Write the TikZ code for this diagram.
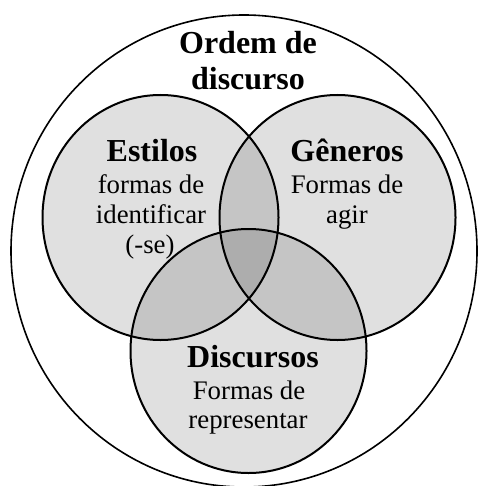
\documentclass[tikz,border=0pt]{standalone}
\usepackage{fontspec}
\setmainfont{Liberation Serif}
\usepackage{tikz}
\usetikzlibrary{calc}

\tikzset{
  ring/.style={draw=black, line width=1pt},
  blob/.style={fill=black, fill opacity=0.12},
  head/.style={anchor=base, inner sep=0pt, font=\fontsize{16}{18}\selectfont\bfseries},
  line/.style={anchor=base, inner sep=0pt, font=\fontsize{13.4}{15}\selectfont}
}

\begin{document}
\begin{tikzpicture}[x=0.5pt,y=-0.5pt]
\useasboundingbox(0,0) rectangle (477,486);
\coordinate (ordem) at (244,251);
\coordinate (est) at (160.5,217.5);
\coordinate (gen) at (337.5,217.5);
\coordinate (dis) at (248.5,351);
% outer order
\draw[ring,line width=0.8pt](ordem) ellipse[x radius=233,y radius=236];
% three fields
\fill[blob](est) ellipse[x radius=118,y radius=122.5];
\fill[blob](gen) ellipse[x radius=118,y radius=122.5];
\fill[blob](dis) ellipse[x radius=118,y radius=122];
\draw[ring](est) ellipse[x radius=118,y radius=122.5];
\draw[ring](gen) ellipse[x radius=118,y radius=122.5];
\draw[ring](dis) ellipse[x radius=118,y radius=122];
% labels
\node[head](ordemA) at (248,54) {Ordem de};
\node[head](ordemB) at (248,90) {discurso};
\node[head](estA) at (152,162) {Estilos};
\node[line](estB) at (151,193) {formas de};
\node[line](estC) at (151,223) {identificar};
\node[line](estD) at (150,253) {(-se)};
\node[head](genA) at (347,162) {Gêneros};
\node[line](genB) at (347,193) {Formas de};
\node[line](genC) at (347,223) {agir};
\node[head](disA) at (253,367) {Discursos};
\node[line](disB) at (249,399) {Formas de};
\node[line](disC) at (248,428) {representar};
\end{tikzpicture}
\end{document}
